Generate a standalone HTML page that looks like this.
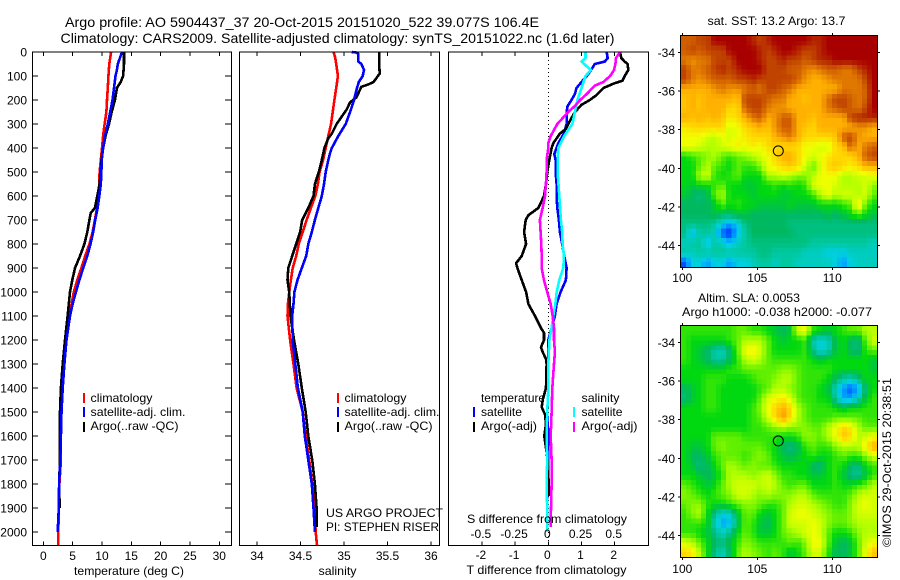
<!DOCTYPE html>
<html>
<head>
<meta charset="utf-8">
<title>Argo profile</title>
<style>
html,body{margin:0;padding:0;background:#fff;width:900px;height:580px;overflow:hidden}
svg{display:block}
text{font-family:"Liberation Sans",sans-serif;fill:#000;font-size:12px}
</style>
</head>
<body>
<svg id="chart" width="900" height="580" viewBox="0 0 900 580" xmlns="http://www.w3.org/2000/svg"></svg>
<script>
// ---- Tick data ----
const depthTicks = [0,100,200,300,400,500,600,700,800,900,1000,1100,1200,1300,1400,1500,1600,1700,1800,1900,2000];
const tempTicks = [0,5,10,15,20,25,30];
const salTicks = [34,34.5,35,35.5,36];
const salTickLabels = ["34","34.5","35","35.5","36"];
const tDiffTicks = [-2,-1,0,1,2];
const sDiffTicks = [-0.5,-0.25,0,0.25,0.5];
const sDiffTickLabels = ["-0.5","-0.25","0","0.25","0.5"];
const lonTicks = [100,105,110];
const latTicks = [-34,-36,-38,-40,-42,-44];

// ---- Temperature profiles ----
const tempClimDepth = [0,50,100,150,200,250,300,350,400,450,500,550,600,650,700,750,800,850,900,950,1000,1100,1200,1300,1400,1500,1600,1700,1800,1900,2000,2055];
const tempClimValues = [11.55,11.25,11.1,11,10.85,10.75,10.45,10.2,10,9.8,9.6,9.55,9.4,9.15,8.8,8.4,7.85,7.15,6.5,5.8,5.2,4.45,3.85,3.5,3.2,3.05,2.95,3,2.75,2.65,2.55,2.55];
const tempSatDepth = [0,25,50,75,100,150,200,250,300,350,400,450,500,550,600,650,700,750,800,850,900,950,1000,1050,1100,1200,1300,1400,1500,1600,1700,1800,1900,2000];
const tempSatValues = [13.4,13.05,12.7,12.55,12.3,12.05,11.8,11.4,11,10.5,10.2,9.95,9.9,9.8,9.55,9.25,8.85,8.5,8.05,7.5,6.8,6.15,5.55,5,4.55,3.95,3.6,3.3,3.1,3,2.9,2.7,2.65,2.45];
const tempArgoDepth = [0,50,100,125,140,150,200,250,300,350,400,450,500,550,600,650,670,700,750,800,850,900,950,1000,1100,1200,1300,1400,1500,1600,1700,1800,1900];
const tempArgoValues = [13.75,13.75,13.6,13.2,12.8,12.55,12.2,11.65,11.2,10.6,10.2,9.9,9.8,9.6,9.2,8.8,8.1,7.85,7.5,7,6.25,5.4,4.95,4.55,4.15,3.7,3.3,3,2.85,2.8,2.85,2.7,2.8];

// ---- Salinity profiles ----
const salClimDepth = [0,25,50,100,150,200,250,300,350,400,450,500,550,600,650,700,750,800,850,900,950,1000,1050,1100,1200,1300,1400,1500,1600,1700,1800,1900,2000,2055];
const salClimValues = [34.88,34.9,34.91,34.93,34.91,34.89,34.87,34.85,34.82,34.79,34.76,34.72,34.7,34.67,34.62,34.57,34.525,34.48,34.45,34.41,34.39,34.37,34.355,34.35,34.38,34.42,34.455,34.525,34.56,34.6,34.635,34.66,34.675,34.69];
const salSatDepth = [0,3,25,40,50,75,100,125,150,200,250,300,350,400,420,450,500,550,600,650,700,750,800,850,900,950,1000,1050,1100,1200,1300,1400,1500,1600,1700,1800,1900,2000];
const salSatValues = [35.09,35.16,35.165,35.165,35.2,35.23,35.215,35.17,35.15,35.115,35.07,35.02,34.935,34.86,34.84,34.82,34.79,34.77,34.745,34.705,34.665,34.63,34.59,34.565,34.515,34.465,34.43,34.42,34.405,34.41,34.44,34.47,34.525,34.55,34.59,34.63,34.65,34.665];
const salArgoDepth = [0,50,90,100,125,135,145,160,190,210,240,300,340,360,400,450,500,550,600,650,700,750,800,850,900,950,1000,1100,1200,1300,1400,1500,1600,1700,1800,1900,1980];
const salArgoValues = [35.405,35.405,35.41,35.39,35.34,35.28,35.2,35.18,35.14,35.07,35.03,34.915,34.86,34.82,34.775,34.745,34.71,34.665,34.65,34.59,34.52,34.495,34.45,34.405,34.36,34.35,34.37,34.385,34.425,34.475,34.515,34.56,34.59,34.635,34.665,34.685,34.685];

// ---- Difference profiles ----
const tDiffSatDepth = [0,25,40,50,75,100,125,150,175,200,225,250,300,340,380,425,450,500,550,600,650,700,750,800,850,900,950,1000,1050,1100,1150,1200,1300,1400,1500,1600,1700,1800,2000];
const tDiffSatValues = [1.76,1.79,1.7,1.4,1.29,1.16,1,0.85,0.8,0.7,0.58,0.55,0.55,0.47,0.3,0.18,0.22,0.22,0.25,0.25,0.27,0.32,0.35,0.42,0.48,0.55,0.53,0.37,0.25,0.2,0.1,0,0,0,-0.03,0,0,-0.03,-0.03];
const tDiffArgoDepth = [0,25,40,50,75,100,120,130,150,180,200,220,250,300,320,340,380,400,450,500,550,600,650,680,700,750,800,850,880,900,950,1000,1050,1100,1150,1170,1200,1230,1250,1280,1300,1400,1450,1480,1510,1550,1600,1650,1700,1750,1800,1850];
const tDiffArgoValues = [2.16,2.2,2.3,2.39,2.41,2.3,2.23,2,1.66,1.45,1.25,1,0.8,0.6,0.53,0.35,0.15,0.1,0.03,-0.03,-0.07,-0.13,-0.3,-0.6,-0.68,-0.73,-0.67,-0.8,-0.97,-0.93,-0.8,-0.67,-0.6,-0.4,-0.22,-0.13,-0.13,-0.22,-0.17,-0.07,-0.05,-0.07,-0.17,-0.2,-0.1,-0.07,-0.12,-0.07,-0.02,0,0.01,0.01];
const sDiffSatDepth = [0,25,40,60,75,100,150,200,250,300,350,400,450,500,600,700,750,800,850,900,950,1000,1050,1100,1150,1200,1300,1400,1500,1600,1700,1800,1900,2000];
const sDiffSatValues = [0.28,0.28,0.25,0.29,0.32,0.28,0.25,0.22,0.2,0.18,0.12,0.075,0.07,0.07,0.083,0.095,0.105,0.108,0.118,0.113,0.083,0.063,0.053,0.038,0.025,0.008,0,0,-0.008,-0.013,-0.008,-0.013,-0.008,-0.008];
const sDiffArgoDepth = [0,25,50,75,100,125,140,175,200,225,250,300,350,380,400,450,500,550,600,650,700,750,800,850,900,950,1000,1050,1100,1150,1200,1250,1300,1400,1500,1600,1700,1800,1900,1980];
const sDiffArgoValues = [0.54,0.51,0.505,0.495,0.465,0.415,0.35,0.29,0.24,0.2,0.15,0.068,0.018,0,0,-0.013,-0.013,-0.018,-0.025,-0.043,-0.063,-0.058,-0.053,-0.05,-0.05,-0.033,-0.008,0.018,0.033,0.043,0.043,0.05,0.043,0.03,0.025,0.018,0.025,0.025,0.02,0.018];

// ---- Map data (colour level per cell) ----
const sstGrid = [
[12.5,12.5,13,13,14,14,14,14,14,13.5,13,13.5,14,14,14,14,14,13.5,13.5,14,14,14,14,14,14,14],
[12.5,13,12.5,13,13,13,14,14,14,14,13.5,13,13.5,14,14,13.5,13,13,13.5,14,14,14,14,14,14,14],
[12,11.5,12,12,13,13,13,14,14,14,13.5,13,13,13.5,13,13,12.5,13,13.5,13.5,14,14,14,14,14,14],
[13,12,12,12.5,13,13.5,13,13.5,14,14,14,13,13,13,12.5,12.5,12,11.5,12,12.5,12.5,12,12,13,13.5,14],
[13,12,11.5,12,12.5,12.5,12.5,13,13,13.5,13,13,13,13,13,12.5,11.5,11,11,11.5,12,12,12,12,13,14],
[11,11,11,11,11.5,12,11.5,11.5,12,12.5,12,13,13,12.5,12,11,11,11,11,11,11,12,12,12,12.5,14],
[10.5,11,10.5,11,11,11,11,10.5,13,13,13,12.5,12,12,11,11,10.5,11,11,12,13,13,12.5,12,12.5,14],
[10.5,11,10.5,11,11,11,10,10,12.5,13,13,12,11.5,11.5,11,11,11,11,11,12,12.5,13,12.5,12,13,14],
[11,10.5,11,10.5,11,10.5,9.5,10,11,12,12.5,11,11.5,12.5,12.5,11,11,10.5,11,11,11,11,13,13.5,13.5,13.5],
[9.5,10,10,10,10,10,8.5,9,10,10.5,11,10.5,11.5,12.5,12.5,11,10.5,10,11,11,11,11,11,11.5,11.5,11],
[9,9,9,8.5,8,9,8.5,9,9.5,10,10,10,11,11.5,12,11,10,10,10,10,10.5,12.5,13,11.5,11,11],
[9,9,8.5,8,8,8.5,9,9.5,9,9.5,9,10,10,10,10,10,9,9,8.5,8.5,10,10.5,12.5,11,12,12.5],
[6,6.5,7,7.5,8,7,6.5,7,7.5,8,8.5,9,10,11,11,10,9,8.5,9,9.5,10,10,10,11,12.5,13],
[6,6,7,8,7,6.5,6,7,6.5,6.5,7.5,9,9.5,10,10.5,10,8.5,7,8.5,10,10.5,10,9.5,10,11,11],
[6,6,8,8.5,6.5,6,6.5,7,6,6,6,8,8,8.5,8,7.5,7.5,8,9,9,9,8,8,8.5,8.5,9],
[6,5.5,6,6,6.5,7,6,6,5.5,5.5,6,6,6.5,6,6.5,6,6.5,8.5,9,9,8.5,8,8,8,8.5,7.5],
[5.5,5,4.5,5,7,8,6,6,6,5.5,6,6,6,5.5,5.5,6,6,6.5,8,9,8,8.5,8.5,8,8.5,7],
[5,5,5,5,5.5,7,6,6.5,6,6,5.5,5.5,5.5,5.5,6,5.5,5.5,5.5,6,6,6,6.5,7,10,7,6],
[5,5,5,5,5.5,5,5,5.5,5.5,5,5,5,5,5,5,5,5,5,5,5.5,5,5.5,6,7,6,5.5],
[4.5,4.5,4.5,4.5,4,3,2,3,4.5,5,5,5,5,5,4.5,4.5,4.5,4.5,4.5,4.5,4.5,4.5,4.5,4.5,4.5,4.5],
[4.5,2,4,4,3.5,1,0.5,2.5,4,5,5,5,5,5,5,4.5,4.5,4.5,4.5,4.5,4.5,4.5,4.5,4.5,4.5,4.5],
[3.5,4,4,2.5,4,3.5,2.5,3.5,4,4.5,4.5,4.5,4.5,4.5,4.5,4.5,4.5,4,4,4,4,4,4,4,4,3.5],
[4,3.5,4,4,4,4,4,4,4,4,4.5,4.5,4,4,4,4,3.5,3.5,3.5,3,3,3,3.5,3.5,3.5,3.5],
[1,3,3,2,3,3,2,3,3,3.5,4,4,3.5,4,4,3.5,3.5,3.5,3.5,3.5,3,2,3,3.5,3.5,3.5]
];
const slaGrid = [
[6.5,6.5,6.5,6.5,6.5,6.5,6.5,7,7,6.5,6.5,6,5.5,5,5.5,8.5,9,6.5,6,5.5,6,6.5,7,7,8,8],
[6.5,6,6,6,6,6,6.5,7,8,8,8,7,6,5.5,6,6,6.5,4,3,3.5,5.5,6,5,4.5,7,8.5],
[6.5,6,5.5,5,4,3.5,5,7,9,9.5,8.5,7,6,6,6,6,6.5,4.5,3,3.5,5.5,6,5,4.5,6.5,7],
[6.5,6,5.5,5,4,4,5,6.5,8,8.5,8,7,6.5,6.5,6.5,6.5,6.5,6,5.5,6,6,6,6,6,6,5.5],
[6,6,6,6,6,6,6.5,6.5,7,7,7,7,7,7.5,7.5,7,6.5,6.5,6.5,6.5,6,6,6,6,6,5.5],
[6,6,6,6.5,6.5,6.5,6,6,6,6.5,7,7,7.5,8,8,7,6.5,6.5,6.5,6,5,4,3.5,4.5,6,6],
[5,5.5,6,6.5,6.5,6,6,6,6,6,6.5,7,8,8,7.5,7,6.5,6.5,6,5.5,3.5,2,1,2,5,6],
[4.5,5.5,6,6.5,6.5,6,6,6,6,6,7,8.5,9,9.5,8.5,7,6.5,6.5,6,6,4,2,2,3.5,5.5,6.5],
[6,6,6,6.5,6.5,6,6,6,6,6.5,7.5,9,10,11,10,8,7,6.5,6.5,6.5,6,5.5,6,6,6.5,6.5],
[6,6,6,6,6,6,6,6,6,6.5,7,8.5,10,11.5,10,8,7,6.5,6.5,6.5,7,7,7,7,6.5,6.5],
[6,6,6,6,6,6,6,6,6,6.5,6.5,7,7.5,8,7.5,7.5,7.5,7,7,8,9,10,9.5,8,7,7],
[6,6,6,6,7,7,7,7,6.5,6.5,6.5,6.5,6.5,6,6,6.5,7.5,7.5,7,8,9,10.5,10,8,8.5,9],
[6,5.5,5.5,6,7,7.5,7,7,7,7,7,6.5,6,5,4.5,5,6.5,7,6.5,6.5,7.5,8,8,8,9.5,11],
[6,5,5,5.5,6.5,7,7,7,6.5,7,7.5,7,6,5.5,5,5.5,6,6.5,6,6,6.5,7,6.5,6.5,7.5,8.5],
[6,5.5,4.5,5,6,7,8,7.5,7,7.5,7,7,6.5,6,6,6,6,5,4.5,6,6.5,6,5,4.5,6,6.5],
[6,6,5.5,5,5.5,6.5,8,8,8,7.5,8,8.5,7.5,6.5,6.5,6,6,5.5,5.5,6,6.5,5.5,4.5,4,5.5,6.5],
[7,6.5,6,5.5,6,7,8,8.5,8.5,8.5,8,8.5,8,7,6.5,7,7,6,6,6,6.5,6,6,6.5,7,8],
[7.5,7,6.5,6,6.5,7,7.5,8.5,8.5,8,7.5,8,7.5,7.5,7.5,8,8,7,6.5,6.5,6.5,6.5,7,8,8.5,8.5],
[7,7.5,7.5,6.5,6,6,6.5,7,7.5,7.5,7,6.5,6.5,7,8,8.5,8.5,8,7.5,7,6.5,6.5,7.5,8.5,9,8.5],
[6.5,7.5,8,6,4.5,3,3.5,5.5,7,7,6,5.5,6,7,8.5,9,9,8.5,8,7.5,7,7,7.5,8.5,8.5,8.5],
[6.5,6.5,6.5,6,3.5,2,2.5,5,7,6.5,5.5,5,6,7,8.5,8.5,8.5,9,8.5,7.5,7,7,7.5,8,8,8],
[6.5,6.5,6,5.5,4.5,3.5,4.5,6,7,6.5,5.5,5.5,6,7,7.5,8,8.5,9,8.5,7,6,6,6.5,7.5,8,8],
[8.5,8,7,6,5,4.5,5.5,6.5,7.5,7,6.5,6.5,6.5,6.5,7,6.5,7.5,9,9,7,5.5,5,5.5,7,8.5,9],
[10,9.5,8,6,4.5,3.5,5,7,8,7.5,7,6.5,7,6.5,5.5,6,7,8.5,8.5,6.5,5,5,5.5,7,9,10.5]
];
const floatLon = 106.4;
const floatLat = -39.1;

// ---- Colour scale ----
const levelColors = ["#0000b0","#0050ff","#00a0ff","#00d0e0","#00c8a0","#00b860","#00d810","#60f000","#b4ff00","#f0ff00","#ffd800","#ffb000","#e07800","#c04400","#a80000"];

// ---- Axis functions ----
const svg = document.getElementById('chart');
const NS = 'http://www.w3.org/2000/svg';
const yDepth = d => 52 + 0.24 * d;
const xTemp = v => 43.3 + 5.867 * v;
const xSal = v => 257 + 87 * (v - 34);
const xTDiff = v => 548.3 + 33.2 * v;
const xSDiff = v => 548.3 + 132.8 * v;
const PLOT_TOP = 52, PLOT_BOTTOM = 545.5;
const mapLeft = 681, mapRight = 877;
const sstTop = 36, sstBottom = 267;
const slaTop = 326, slaBottom = 557;
const displayCols = 39, displayRows = 48;
const xLon = lon => 682.3 + 15 * (lon - 100);
const ySstLat = lat => 52.3 + 19.33 * (-34 - lat);
const ySlaLat = lat => 342.3 + 19.33 * (-34 - lat);

function hexToRgb(h){
  return [parseInt(h.slice(1,3),16),parseInt(h.slice(3,5),16),parseInt(h.slice(5,7),16)];
}
function levelColor(v){
  const c = Math.max(0, Math.min(levelColors.length - 1, v));
  const a = Math.floor(c), b = Math.min(levelColors.length - 1, a + 1), f = c - a;
  const A = hexToRgb(levelColors[a]), B = hexToRgb(levelColors[b]);
  return 'rgb(' + A.map((x,i) => Math.round(x + (B[i] - x) * f)).join(',') + ')';
}
function line(x1,y1,x2,y2,name,stroke,width,dash){
  const el = document.createElementNS(NS,'line');
  el.setAttribute('x1',x1);el.setAttribute('y1',y1);el.setAttribute('x2',x2);el.setAttribute('y2',y2);
  el.setAttribute('stroke',stroke||'#000');
  el.setAttribute('stroke-width',width||1);
  if(dash) el.setAttribute('stroke-dasharray',dash);
  el.setAttribute('shape-rendering','crispEdges');
  
  
  svg.appendChild(el);
  return el;
}
function frame(x,y,w,h,name){
  const el = document.createElementNS(NS,'rect');
  el.setAttribute('x',x);el.setAttribute('y',y);el.setAttribute('width',w);el.setAttribute('height',h);
  el.setAttribute('fill','none');el.setAttribute('stroke','#000');
  el.setAttribute('shape-rendering','crispEdges');
  
  
  svg.appendChild(el);
}
function label(x,y,str,name,anchor,len,size){
  const el = document.createElementNS(NS,'text');
  el.setAttribute('x',x);el.setAttribute('y',y);
  if(anchor) el.setAttribute('text-anchor',anchor);
  if(len){ el.setAttribute('textLength',len); el.setAttribute('lengthAdjust','spacingAndGlyphs'); }
  if(size) el.style.fontSize = size + 'px';
  el.textContent = str;
  
  
  svg.appendChild(el);
  return el;
}
function profile(depths,values,xFn,color,name,width){
  const el = document.createElementNS(NS,'polyline');
  el.setAttribute('points',depths.map((d,i) => xFn(values[i]).toFixed(1) + ',' + yDepth(d).toFixed(1)).join(' '));
  el.setAttribute('fill','none');
  el.setAttribute('stroke',color);
  el.setAttribute('stroke-width',width||2.6);
  el.setAttribute('shape-rendering','crispEdges');
  
  
  svg.appendChild(el);
}
function legendMark(x,y,color,name){
  line(x,y,x,y+10,name,color,2);
}
function sampleGrid(grid,u,v){
  const rows = grid.length, cols = grid[0].length;
  const cu = Math.max(0, Math.min(cols - 1, u)), cv = Math.max(0, Math.min(rows - 1, v));
  const j0 = Math.floor(cu), i0 = Math.floor(cv);
  const j1 = Math.min(cols - 1, j0 + 1), i1 = Math.min(rows - 1, i0 + 1);
  const fx = cu - j0, fy = cv - i0;
  const top = grid[i0][j0] * (1 - fx) + grid[i0][j1] * fx;
  const bot = grid[i1][j0] * (1 - fx) + grid[i1][j1] * fx;
  return top * (1 - fy) + bot * fy;
}
function heatmap(grid,top,bottom,name){
  const rows = grid.length, cols = grid[0].length;
  const cw = (mapRight - mapLeft) / displayCols, ch = (bottom - top) / displayRows;
  for(let i = 0; i < displayRows; i++){
    for(let j = 0; j < displayCols; j++){
      const u = (j + 0.5) / displayCols * cols - 0.5;
      const w = (i + 0.5) / displayRows * rows - 0.5;
      const r = document.createElementNS(NS,'rect');
      r.setAttribute('x',(mapLeft + j * cw).toFixed(2));
      r.setAttribute('y',(top + i * ch).toFixed(2));
      r.setAttribute('width',(cw + 0.5).toFixed(2));
      r.setAttribute('height',(ch + 0.5).toFixed(2));
      r.setAttribute('fill',levelColor(sampleGrid(grid,u,w)));
      r.setAttribute('shape-rendering','crispEdges');
      
      
      svg.appendChild(r);
    }
  }
}

// ---- Titles ----
label(65,27,"Argo profile: AO 5904437_37 20-Oct-2015 20151020_522 39.077S 106.4E","title-line-1",null,474,14);
label(60.5,43,"Climatology: CARS2009. Satellite-adjusted climatology: synTS_20151022.nc (1.6d later)","title-line-2",null,554,14);

// ---- Temperature panel ----
profile(tempClimDepth,tempClimValues,xTemp,'#ff0000','temp-climatology-line');
profile(tempArgoDepth,tempArgoValues,xTemp,'#000000','temp-argo-line');
profile(tempSatDepth,tempSatValues,xTemp,'#0000ff','temp-satellite-line');
frame(32.5,PLOT_TOP,199,PLOT_BOTTOM-PLOT_TOP,'temperature-panel-frame');
depthTicks.forEach(d => {
  line(32,yDepth(d),38,yDepth(d),'depth-tick-left');
  line(225,yDepth(d),231,yDepth(d),'depth-tick-right');
  label(27,yDepth(d)+4.5,String(d),'depth-tick-label','end');
});
tempTicks.forEach(t => {
  line(xTemp(t),PLOT_TOP,xTemp(t),PLOT_TOP+4,'temp-tick-top');
  line(xTemp(t),PLOT_BOTTOM-4,xTemp(t),PLOT_BOTTOM,'temp-tick-bottom');
  label(xTemp(t),560,String(t),'temp-tick-label','middle');
});
label(129,575,"temperature (deg C)","temperature-axis-title","middle",110);
legendMark(84,393,'#ff0000','legend-mark-climatology');
legendMark(84,407,'#0000ff','legend-mark-satellite');
legendMark(84,422,'#000000','legend-mark-argo');
label(90.5,402,"climatology","legend-text-climatology",null,62);
label(90.5,416,"satellite-adj. clim.","legend-text-satellite",null,95);
label(90.5,430,"Argo(..raw -QC)","legend-text-argo",null,88);

// ---- Salinity panel ----
profile(salClimDepth,salClimValues,xSal,'#ff0000','sal-climatology-line');
profile(salArgoDepth,salArgoValues,xSal,'#000000','sal-argo-line');
profile(salSatDepth,salSatValues,xSal,'#0000ff','sal-satellite-line');
frame(239.5,PLOT_TOP,200,PLOT_BOTTOM-PLOT_TOP,'salinity-panel-frame');
salTicks.forEach((s,i) => {
  line(xSal(s),PLOT_TOP,xSal(s),PLOT_TOP+4,'sal-tick-top');
  line(xSal(s),PLOT_BOTTOM-4,xSal(s),PLOT_BOTTOM,'sal-tick-bottom');
  label(xSal(s),560,salTickLabels[i],'sal-tick-label','middle');
});
label(337.5,575,"salinity","salinity-axis-title","middle",38);
legendMark(338,393,'#ff0000','legend-mark-climatology');
legendMark(338,407,'#0000ff','legend-mark-satellite');
legendMark(338,422,'#000000','legend-mark-argo');
label(344.5,402,"climatology","legend-text-climatology",null,62);
label(344.5,416,"satellite-adj. clim.","legend-text-satellite",null,95);
label(344.5,430,"Argo(..raw -QC)","legend-text-argo",null,88);
label(326,517,"US ARGO PROJECT","project-credit",null,117);
label(326,531,"PI: STEPHEN RISER","pi-credit",null,113);

// ---- Difference panel ----
line(548.5,PLOT_TOP,548.5,PLOT_BOTTOM,'zero-reference-line','#000',1,'1 3');
profile(tDiffSatDepth,tDiffSatValues,xTDiff,'#0000ff','t-diff-satellite-line');
profile(tDiffArgoDepth,tDiffArgoValues,xTDiff,'#000000','t-diff-argo-line');
profile(sDiffSatDepth,sDiffSatValues,xSDiff,'#00ffff','s-diff-satellite-line');
profile(sDiffArgoDepth,sDiffArgoValues,xSDiff,'#ff00ff','s-diff-argo-line');
frame(448.5,PLOT_TOP,200,PLOT_BOTTOM-PLOT_TOP,'difference-panel-frame');
tDiffTicks.forEach(t => {
  line(xTDiff(t),PLOT_TOP,xTDiff(t),PLOT_TOP+4,'t-diff-tick-top');
  line(xTDiff(t),PLOT_BOTTOM-4,xTDiff(t),PLOT_BOTTOM,'t-diff-tick-bottom');
  label(xTDiff(t)-1,559,String(t),'t-diff-tick-label','middle');
});
sDiffTicks.forEach((s,i) => {
  label(xSDiff(s)-1,538,sDiffTickLabels[i],'s-diff-tick-label','middle');
});
label(467,523,"S difference from climatology","s-diff-axis-title",null,160);
label(466.5,574,"T difference from climatology","t-diff-axis-title",null,160);
label(481,402,"temperature","legend-heading-temperature",null,64);
label(481,416,"satellite","legend-text-t-satellite",null,41);
label(481,430,"Argo(-adj)","legend-text-t-argo",null,56);
label(581.5,402,"salinity","legend-heading-salinity",null,38);
label(581.5,416,"satellite","legend-text-s-satellite",null,41);
label(581.5,430,"Argo(-adj)","legend-text-s-argo",null,56);
legendMark(474,407,'#0000ff','legend-mark-t-satellite');
legendMark(474,422,'#000000','legend-mark-t-argo');
legendMark(574,407,'#00ffff','legend-mark-s-satellite');
legendMark(574,422,'#ff00ff','legend-mark-s-argo');

// ---- Map panels ----
function mapAxes(top,bottom,yFn,labelY,prefix){
  frame(mapLeft-0.5,top-0.5,mapRight-mapLeft+1,bottom-top+1,prefix + '-map-frame');
  lonTicks.forEach(lon => {
    line(xLon(lon),top-3,xLon(lon),top,prefix + '-lon-tick-top');
    line(xLon(lon),bottom,xLon(lon),bottom+3,prefix + '-lon-tick-bottom');
    label(xLon(lon),labelY,String(lon),prefix + '-lon-tick-label','middle');
  });
  latTicks.forEach(lat => {
    line(mapLeft-3,yFn(lat),mapLeft,yFn(lat),prefix + '-lat-tick-left');
    line(mapRight,yFn(lat),mapRight+3,yFn(lat),prefix + '-lat-tick-right');
    label(675,yFn(lat)+4.5,String(lat),prefix + '-lat-tick-label','end');
  });
}
function floatMarker(yFn,name){
  const c = document.createElementNS(NS,'circle');
  c.setAttribute('cx',xLon(floatLon));
  c.setAttribute('cy',yFn(floatLat));
  c.setAttribute('r',5);
  c.setAttribute('fill','none');
  c.setAttribute('stroke','#000');
  
  
  svg.appendChild(c);
}
heatmap(sstGrid,sstTop,sstBottom,'sst');
mapAxes(sstTop,sstBottom,ySstLat,282,'sst');
floatMarker(ySstLat,'sst-float-marker');
label(707.5,25,"sat. SST: 13.2 Argo: 13.7","sst-map-title",null,138);

heatmap(slaGrid,slaTop,slaBottom,'sla');
mapAxes(slaTop,slaBottom,ySlaLat,573,'sla');
floatMarker(ySlaLat,'sla-float-marker');
label(698,302,"Altim. SLA: 0.0053","sla-map-title",null,102);
label(682,316,"Argo h1000: -0.038 h2000: -0.077","sla-map-subtitle",null,190);

const stamp = label(0,0,"©IMOS 29-Oct-2015 20:38:51","imos-timestamp",null,169);
stamp.setAttribute('transform','translate(891,547) rotate(-90)');
</script>
</body>
</html>
